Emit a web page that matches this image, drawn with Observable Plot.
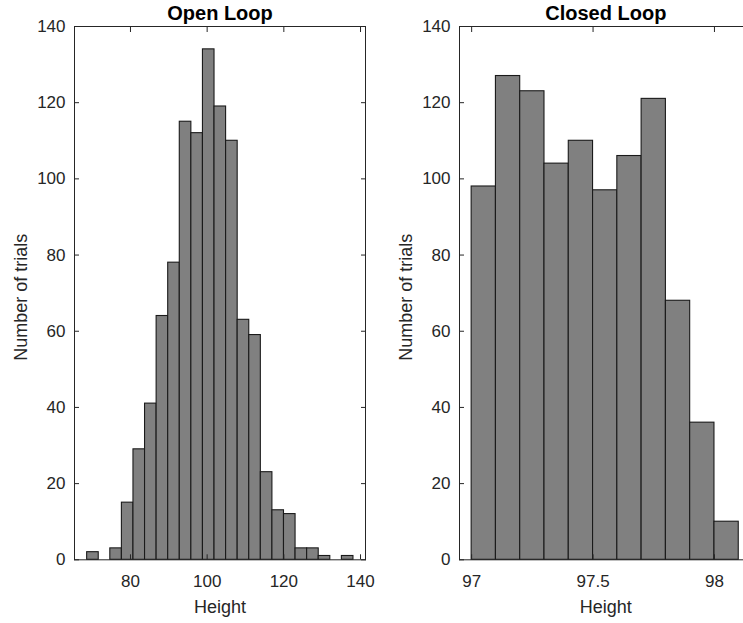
<!DOCTYPE html>
<html>
<head>
<meta charset="utf-8">
<script src="https://cdn.jsdelivr.net/npm/d3@7"></script>
<script src="https://cdn.jsdelivr.net/npm/@observablehq/plot@0.6"></script>
<style>
  html, body { margin: 0; padding: 0; background: #fff; }
  #wrap { position: relative; width: 743px; height: 623px; overflow: hidden; }
  #wrap svg { position: absolute; top: 0; overflow: visible; }
</style>
</head>
<body>
<div id="wrap"></div>
<script>
// Open loop histogram: bin edges (24) and counts (23)
const openEdges = [68.7, 71.72, 74.74, 77.76, 80.78, 83.8, 86.82, 89.84, 92.86, 95.88, 98.9, 101.92,
  104.94, 107.96, 110.98, 114.0, 117.02, 120.04, 123.06, 126.08, 129.1, 132.12, 135.14, 138.16];
const openCounts = [2, 0, 3, 15, 29, 41, 64, 78, 115, 112, 134, 119, 110, 63, 59, 23, 13, 12, 3, 3, 1, 0, 1];
const openXTicks = [80, 100, 120, 140];

// Closed loop histogram: bin edges (12) and counts (11)
const closedEdges = [97.0, 97.1, 97.2, 97.3, 97.4, 97.5, 97.6, 97.7, 97.8, 97.9, 98.0, 98.1];
const closedCounts = [98, 127, 123, 104, 110, 97, 106, 121, 68, 36, 10];
const closedXTicks = [97, 97.5, 98];

const yTicks = [0, 20, 40, 60, 80, 100, 120, 140];
const titles = ["Open Loop", "Closed Loop"];
const xLabel = "Height";
const yLabel = "Number of trials";

const axisColor = "#262626";
const font = "'Liberation Sans', Arial, Helvetica, sans-serif";

function hist(edges, counts, xDomain, xTicks, title, opts) {
  const bins = counts.map((c, i) => ({x1: edges[i], x2: edges[i + 1], y: c})).filter(d => d.y > 0);
  return Plot.plot({
    width: opts.width,
    height: 623,
    marginLeft: 74,
    marginRight: opts.marginRight,
    marginTop: 26,
    marginBottom: 63.7,
    style: {fontFamily: font, fontSize: "17px", color: axisColor, background: "transparent", overflow: "visible"},
    x: {domain: xDomain},
    y: {domain: [0, 140]},
    marks: [
      Plot.rectY(bins, {x1: "x1", x2: "x2", y: "y", fill: "#808080", stroke: "#1a1a1a", strokeWidth: 1.1}),
      Plot.frame({stroke: axisColor, strokeWidth: 1}),
      // bottom axis: inward ticks + labels
      Plot.axisX({anchor: "bottom", ticks: xTicks, tickSize: -5, tickPadding: 20.5, tickFormat: d => String(d),
        fontSize: 17, fill: axisColor, stroke: axisColor, label: null}),
      // top ticks
      Plot.axisX({anchor: "top", ticks: xTicks, tickSize: -5, fill: "none", stroke: axisColor, label: null}),
      // left axis
      Plot.axisY({anchor: "left", ticks: yTicks, tickSize: -5, tickPadding: 14, tickFormat: d => String(d),
        fontSize: 17, fill: axisColor, stroke: axisColor, label: null}),
      // right ticks
      Plot.axisY({anchor: "right", ticks: yTicks, tickSize: -5, fill: "none", stroke: axisColor, label: null}),
      Plot.text([title], {frameAnchor: "top", lineAnchor: "middle", textAnchor: "middle", dy: -13.4,
        fontSize: 20, fontWeight: "bold", fill: "#000"}),
      Plot.text([xLabel], {frameAnchor: "bottom", lineAnchor: "middle", textAnchor: "middle", dy: 47,
        fontSize: 18, fill: axisColor}),
      Plot.text([yLabel], {frameAnchor: "left", lineAnchor: "middle", textAnchor: "middle", rotate: -90,
        dx: -53, dy: 4, fontSize: 18, fill: axisColor})
    ]
  });
}

const wrap = document.getElementById("wrap");
const left = hist(openEdges, openCounts, [65.4, 141.3], openXTicks, titles[0], {width: 385, marginRight: 20});
left.style.left = "0px";
wrap.appendChild(left);
const right = hist(closedEdges, closedCounts, [96.95, 98.155], closedXTicks, titles[1], {width: 387, marginRight: 20.4});
right.style.left = "385px";
wrap.appendChild(right);
</script>
</body>
</html>
